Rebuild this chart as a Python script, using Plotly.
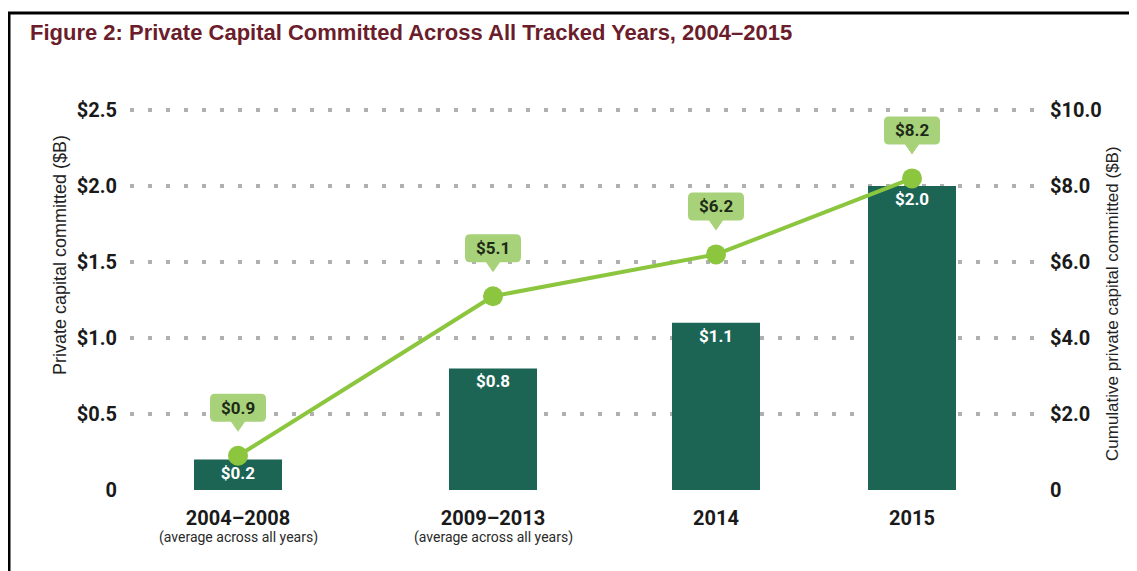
import plotly.graph_objects as go

categories = ["2004–2008", "2009–2013", "2014", "2015"]
subtitles = ["(average across all years)", "(average across all years)", "", ""]
annual_values = [0.2, 0.8, 1.1, 2.0]
cumulative_values = [0.9, 5.1, 6.2, 8.2]
left_ticks = [0, 0.5, 1.0, 1.5, 2.0, 2.5]
left_tick_text = ["0", "$0.5", "$1.0", "$1.5", "$2.0", "$2.5"]
right_ticks = [0, 2, 4, 6, 8, 10]
right_tick_text = ["0", "$2.0", "$4.0", "$6.0", "$8.0", "$10.0"]

# layout positions of categories along the x axis (uneven spacing as in the original)
x_pos = [108, 363, 586, 782]

COND = "Roboto, Liberation Sans Narrow, sans-serif"
SANS = "Liberation Sans, Arial, sans-serif"
BAR = "#1c6555"
LINE = "#8cc63f"
BUBBLE = "#a8d27a"

# page offset compensation (browser body margin)
OFF = 8
W, H = 1137, 571
ML, MR, MT, MB = 130 - OFF, 97 + OFF, 107 - OFF, 81 + OFF

plot_w = W - ML - MR
plot_h = H - MT - MB
def px_x(p):
    return (p - OFF - ML) / plot_w
def px_y(p):
    return (H - MB - (p - OFF)) / plot_h

fig = go.Figure()

fig.add_trace(go.Bar(
    x=x_pos, y=annual_values, width=88,
    marker=dict(color=BAR, line=dict(width=0)),
    text=[f"${v:.1f}" for v in annual_values],
    textposition="inside", insidetextanchor="end",
    textfont=dict(family=COND, size=17, color="white", weight="bold"),
    showlegend=False, hoverinfo="skip",
))

fig.add_trace(go.Scatter(
    x=x_pos, y=cumulative_values, yaxis="y2", mode="lines+markers",
    line=dict(color=LINE, width=4),
    marker=dict(color=LINE, size=20),
    showlegend=False, hoverinfo="skip",
))

# speech-bubble callouts (rounded box + pointer), sized in pixels, anchored at each point
def bubble_path(hw=28, y0=34, y1=62, r=5, pw=7, tip=24):
    return (f"M {-hw + r},{y0} L {-pw},{y0} L 0,{tip} L {pw},{y0} L {hw - r},{y0} "
            f"Q {hw},{y0} {hw},{y0 + r} L {hw},{y1 - r} Q {hw},{y1} {hw - r},{y1} "
            f"L {-hw + r},{y1} Q {-hw},{y1} {-hw},{y1 - r} L {-hw},{y0 + r} "
            f"Q {-hw},{y0} {-hw + r},{y0} Z")

shapes = []
for xv, yv in zip(x_pos, cumulative_values):
    shapes.append(dict(
        type="path", xref="x", yref="y2", xsizemode="pixel", ysizemode="pixel",
        xanchor=xv, yanchor=yv, path=bubble_path(),
        fillcolor=BUBBLE, line=dict(width=0), layer="above",
    ))
    fig.add_annotation(
        x=xv, y=yv, xref="x", yref="y2", yshift=48, showarrow=False,
        xanchor="center", yanchor="middle",
        text=f"<b>${yv:.1f}</b>",
        font=dict(family=COND, size=17, color="#1e2a18"),
    )

shapes += [
    dict(type="line", xref="paper", yref="paper", x0=px_x(7), x1=px_x(1145), y0=px_y(13), y1=px_y(13),
         line=dict(color="black", width=3)),
    dict(type="line", xref="paper", yref="paper", x0=px_x(9), x1=px_x(9), y0=px_y(12), y1=px_y(580),
         line=dict(color="black", width=3)),
]

tick_text = [f"<b>{c}</b>" for c in categories]
for xv, s in zip(x_pos, subtitles):
    if s:
        fig.add_annotation(
            x=xv, xref="x", y=px_y(537), yref="paper", showarrow=False,
            xanchor="center", yanchor="middle",
            text=s, font=dict(family=COND, size=14, color="#2a2a2a"),
        )

# axis titles as rotated annotations
fig.add_annotation(
    x=px_x(60), y=px_y(255), xref="paper", yref="paper", showarrow=False,
    xanchor="center", yanchor="middle",
    text="Private capital committed ($B)", textangle=-90,
    font=dict(family=SANS, size=18, color="#222"),
)
fig.add_annotation(
    x=px_x(1112), y=px_y(304), xref="paper", yref="paper", showarrow=False,
    xanchor="center", yanchor="middle",
    text="Cumulative private capital committed ($B)", textangle=-90,
    font=dict(family=SANS, size=17, color="#222"),
)

fig.update_layout(
    width=W, height=H,
    paper_bgcolor="white", plot_bgcolor="white",
    margin=dict(l=ML, r=MR, t=MT, b=MB),
    title=dict(
        text="<b>Figure 2: Private Capital Committed Across All Tracked Years, 2004–2015</b>",
        x=(30 - OFF) / W, xanchor="left", y=1 - (32 - OFF) / H, yanchor="middle",
        font=dict(family=SANS, size=22, color="#6b1d2b"),
    ),
    xaxis=dict(
        range=[0, 910], tickvals=x_pos, ticktext=tick_text,
        showgrid=False, zeroline=False, showline=False, ticks="",
        tickfont=dict(family=COND, size=20, color="#1a1a1a"),
        ticklabelstandoff=14,
    ),
    yaxis=dict(
        range=[0, 2.52], tickvals=left_ticks, ticktext=left_tick_text,
        showgrid=True, gridcolor="#b0b0b0", gridwidth=4, griddash="4px,14px",
        zeroline=False, showline=False, ticks="",
        tickfont=dict(family=COND, size=20, color="#1a1a1a", weight="bold"),
        ticklabelstandoff=12,
    ),
    yaxis2=dict(
        range=[0, 10.08], tickvals=right_ticks, ticktext=right_tick_text,
        overlaying="y", side="right", showgrid=False, zeroline=False,
        showline=False, ticks="",
        tickfont=dict(family=COND, size=20, color="#1a1a1a", weight="bold"),
        ticklabelstandoff=9,
    ),
    shapes=shapes,
)

fig.write_html("out.html")
